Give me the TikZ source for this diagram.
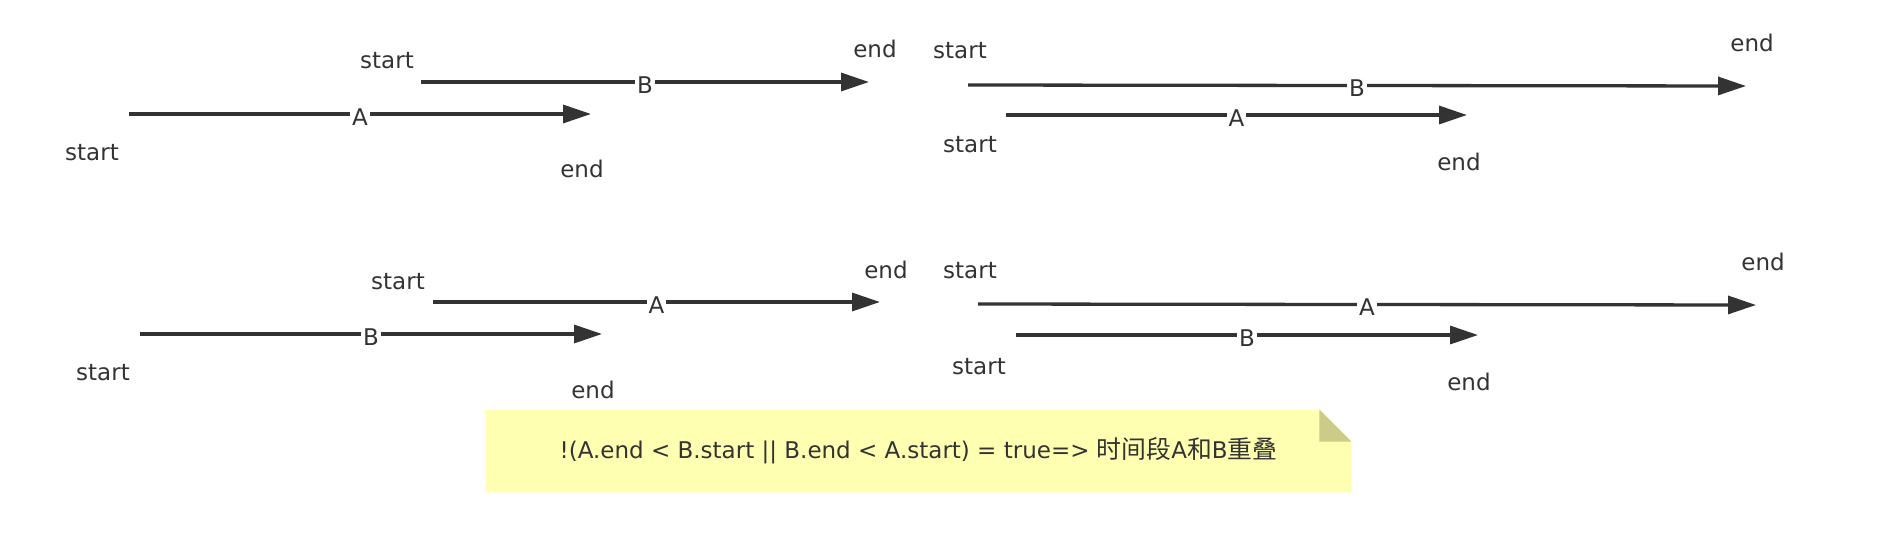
\documentclass[tikz,border=0pt]{standalone}
\usepackage{fontspec}
\setmainfont{DejaVu Sans}
\newfontfamily\cjk[Scale=1.08]{Noto Sans CJK SC}
\usepackage{tikz}
\usetikzlibrary{positioning,calc,arrows.meta,backgrounds}
\definecolor{linegray}{RGB}{51,51,51}
\definecolor{noteyellow}{RGB}{255,255,178}
\definecolor{notefold}{RGB}{204,204,136}
\tikzstyle{interval} = [line width=1.65pt, draw=linegray, -{Triangle[length=14pt,width=9pt]}]
\tikzstyle{seglabel} = [fill=white, text=linegray, inner xsep=1pt, inner ysep=0pt, yshift=-1.5pt]
\tikzstyle{bound} = [text=linegray, inner sep=0pt]
\tikzstyle{note} = [text=linegray, minimum width=432.5pt, minimum height=41pt, inner sep=0pt]

\begin{document}
\begin{tikzpicture}[x=0.5pt, y=-0.5pt, font=\fontsize{11.5}{14}\selectfont]
        \useasboundingbox (0,0) rectangle (1896,552);
        % Top left ---------------------------------------------------------------------------------
        \coordinate (tlA_s) at (129,114);
        \coordinate (tlA_e) at (591,114);
        \coordinate (tlB_s) at (421,82);
        \coordinate (tlB_e) at (869,82);
        \draw[interval] (tlA_s) -- node[seglabel](tlA_lbl){A} (tlA_e);
        \draw[interval] (tlB_s) -- node[seglabel](tlB_lbl){B} (tlB_e);
        \node[bound] (tlA_st) at ([shift={(-37,39)}]tlA_s) {start};
        \node[bound] (tlA_en) at ([shift={(-9,55)}]tlA_e) {end};
        \node[bound] (tlB_st) at ([shift={(-34,-21)}]tlB_s) {start};
        \node[bound] (tlB_en) at ([shift={(6,-33)}]tlB_e) {end};
        % Top right --------------------------------------------------------------------------------
        \coordinate (trB_s) at (968,85);
        \coordinate (trB_e) at (1746,86);
        \coordinate (trA_s) at (1006,115);
        \coordinate (trA_e) at (1467,115);
        \draw[interval] (trB_s) -- node[seglabel](trB_lbl){B} (trB_e);
        \draw[interval] (trA_s) -- node[seglabel](trA_lbl){A} (trA_e);
        \node[bound] (trB_st) at ([shift={(-8,-34)}]trB_s) {start};
        \node[bound] (trB_en) at ([shift={(6,-43)}]trB_e) {end};
        \node[bound] (trA_st) at ([shift={(-36,30)}]trA_s) {start};
        \node[bound] (trA_en) at ([shift={(-8,47)}]trA_e) {end};
        % Bottom left ------------------------------------------------------------------------------
        \coordinate (blB_s) at (140,334);
        \coordinate (blB_e) at (602,334);
        \coordinate (blA_s) at (433,302);
        \coordinate (blA_e) at (880,302);
        \draw[interval] (blB_s) -- node[seglabel](blB_lbl){B} (blB_e);
        \draw[interval] (blA_s) -- node[seglabel](blA_lbl){A} (blA_e);
        \node[bound] (blB_st) at ([shift={(-37,39)}]blB_s) {start};
        \node[bound] (blB_en) at ([shift={(-9,56)}]blB_e) {end};
        \node[bound] (blA_st) at ([shift={(-35,-20)}]blA_s) {start};
        \node[bound] (blA_en) at ([shift={(6,-32)}]blA_e) {end};
        % Bottom right -----------------------------------------------------------------------------
        \coordinate (brA_s) at (978,304);
        \coordinate (brA_e) at (1756,305);
        \coordinate (brB_s) at (1016,335);
        \coordinate (brB_e) at (1478,335);
        \draw[interval] (brA_s) -- node[seglabel](brA_lbl){A} (brA_e);
        \draw[interval] (brB_s) -- node[seglabel](brB_lbl){B} (brB_e);
        \node[bound] (brA_st) at ([shift={(-8,-33)}]brA_s) {start};
        \node[bound] (brA_en) at ([shift={(7,-43)}]brA_e) {end};
        \node[bound] (brB_st) at ([shift={(-37,32)}]brB_s) {start};
        \node[bound] (brB_en) at ([shift={(-9,47)}]brB_e) {end};
        % Note -------------------------------------------------------------------------------------
        \node[note] (rule) at (918.5,451) {!(A.end < B.start || B.end < A.start) = true=> {\cjk 时间段}A{\cjk 和}B{\cjk 重叠}};
        \begin{pgfonlayer}{background}
            \fill[noteyellow] (rule.north west) -- ([xshift=-16pt]rule.north east) -- ([yshift=-16pt]rule.north east) -- (rule.south east) -- (rule.south west) -- cycle;
            \fill[notefold] ([xshift=-16pt]rule.north east) -- ([xshift=-16pt,yshift=-16pt]rule.north east) -- ([yshift=-16pt]rule.north east) -- cycle;
        \end{pgfonlayer}
    \end{tikzpicture}
\end{document}
